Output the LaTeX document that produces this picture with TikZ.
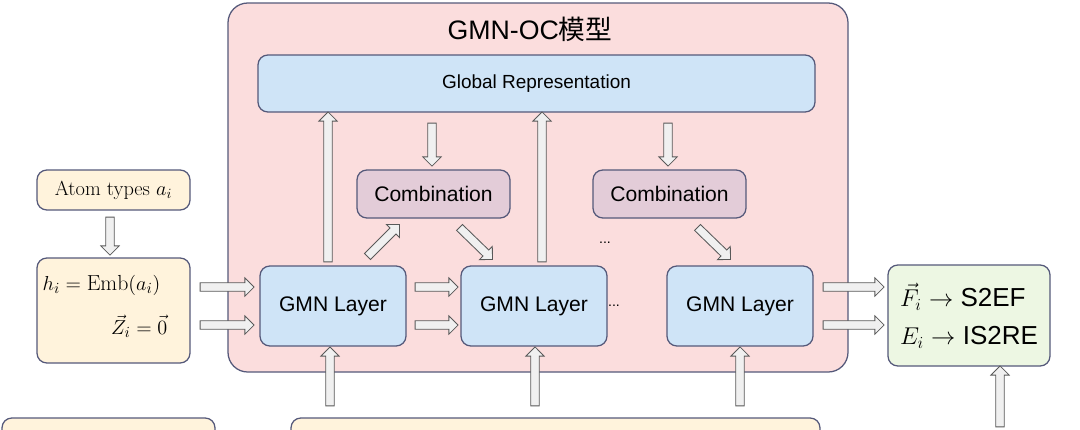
\documentclass[tikz,border=0pt]{standalone}
\usepackage{fontspec}
\setmainfont{Latin Modern Roman}
\newfontfamily\hv{Liberation Sans}
\newfontfamily\cjk{Noto Sans CJK SC}
\usetikzlibrary{shapes.arrows,calc}
\definecolor{pinkf}{HTML}{FBDDDD}
\definecolor{bluef}{HTML}{CFE4F7}
\definecolor{lavf}{HTML}{E3CCD8}
\definecolor{creamf}{HTML}{FFF3DC}
\definecolor{greenf}{HTML}{EDF7E3}
\definecolor{edge}{HTML}{55597A}
\tikzset{
 box/.style={draw=edge, line width=0.9pt, rounded corners=7pt},
 barrow/.style={single arrow, draw=gray!70!black, fill=gray!12, line width=0.6pt,
   inner sep=0.09cm, minimum width=0.46cm, single arrow head extend=0.12cm, outer sep=0},
 lbl/.style={font=\hv\fontsize{15}{17}\selectfont}
}
\newcommand\barr[2]{\path let \p1=($(#2)-(#1)$), \n1={veclen(\x1,\y1)} in (#1) -- (#2) node[barrow, midway, sloped, minimum height=\n1]{};}
\begin{document}
\begin{tikzpicture}[x=0.025cm,y=-0.025cm]
\useasboundingbox (0,0) rectangle (1080,429);
\clip (0,0) rectangle (1080,429);
\draw[box, fill=pinkf, rounded corners=14pt] (228,3) rectangle (848,372);
\node[font=\hv\fontsize{19}{21}\selectfont] (title) at (530,29) {GMN-OC{\cjk 模型}};
\node[box, fill=bluef, minimum width=557*0.025cm, minimum height=57*0.025cm, font=\hv\fontsize{13.5}{15}\selectfont] (glob) at (536.5,83.5) {Global Representation};
\foreach \n/\x in {g1/333, g2/534, g3/740}
  \node[box, fill=bluef, minimum width=146*0.025cm, minimum height=80*0.025cm, lbl] (\n) at (\x,306) {GMN Layer};
\foreach \n/\x in {c1/433.5, c2/669.5}
  \node[box, fill=lavf, minimum width=153*0.025cm, minimum height=48*0.025cm, lbl] (\n) at (\x,194) {Combination};
\node (d1) at (605,243) {\hv ...};
\node (d2) at (614,306) {\hv ...};
\node[box, fill=creamf, minimum width=153*0.025cm, minimum height=40*0.025cm, font=\fontsize{14.5}{16}\selectfont] (atom) at (113.5,190) {Atom types $a_i$};
\draw[box, fill=creamf] (37,258) rectangle (190,363);
\node[font=\fontsize{15.5}{17}\selectfont, anchor=west, inner sep=1pt] (h) at (41,285) {$h_i=\mathrm{Emb}(a_i)$};
\node[font=\fontsize{15.5}{17}\selectfont, anchor=east, inner sep=1pt] (z) at (169,326) {$\vec{Z}_i=\vec{0}$};
\node[box, fill=greenf, minimum width=162*0.025cm, minimum height=101*0.025cm, align=left, font=\hv\fontsize{18.5}{27}\selectfont] (out) at (969,315.5) {$\vec{F}_i$ $\rightarrow$ S2EF\\ $E_i$ $\rightarrow$ IS2RE};
\draw[box, fill=creamf] (2,418) rectangle (215,470);
\draw[box, fill=creamf] (291,418) rectangle (820,470);
\coordinate (a1) at (110,215); \coordinate (a2) at (110,253);
\barr{a1}{a2}
\foreach \y [count=\i] in {287,325}{
 \coordinate (p\i) at (198,\y); \coordinate (q\i) at (252,\y); \barr{p\i}{q\i}
 \coordinate (r\i) at (413,\y); \coordinate (s\i) at (456,\y); \barr{r\i}{s\i}
 \coordinate (t\i) at (821,\y); \coordinate (u\i) at (882,\y); \barr{t\i}{u\i}
}
\foreach \x [count=\i] in {330,535,740}{
 \coordinate (b\i) at (\x,408); \coordinate (e\i) at (\x,349); \barr{b\i}{e\i}
}
\foreach \x [count=\i] in {328,542}{
 \coordinate (gu\i) at (\x,264); \coordinate (gv\i) at (\x,114); \barr{gu\i}{gv\i}
}
\foreach \x [count=\i] in {432,668}{
 \coordinate (gd\i) at (\x,121); \coordinate (ge\i) at (\x,164); \barr{gd\i}{ge\i}
}
\coordinate (k1) at (366,258); \coordinate (k2) at (398,226); \barr{k1}{k2}
\coordinate (k3) at (458,226); \coordinate (k4) at (491,258); \barr{k3}{k4}
\coordinate (k5) at (696,226); \coordinate (k6) at (729,258); \barr{k5}{k6}
\coordinate (o1) at (1000,429); \coordinate (o2) at (1000,368); \barr{o1}{o2}
\end{tikzpicture}
\end{document}
